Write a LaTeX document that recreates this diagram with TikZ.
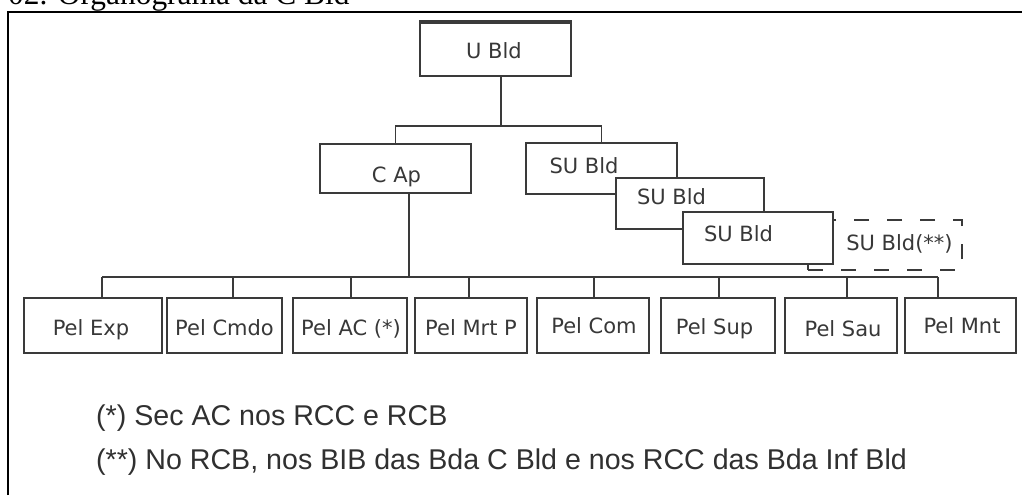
\documentclass[tikz,border=0pt]{standalone}
\usepackage{fontspec}
\newfontfamily\boxfont{DejaVu Sans}
\newfontfamily\notefont{Liberation Sans}
\newfontfamily\titlefont{Liberation Serif}
\definecolor{boxgray}{HTML}{3A3A3A}
\definecolor{txtgray}{HTML}{383838}
\definecolor{notegray}{HTML}{303030}
\begin{document}
\begin{tikzpicture}[x=1pt,y=-1pt,
  box/.style={draw=boxgray, line width=1.8pt, fill=white, inner sep=0pt},
  dashbox/.style={draw=boxgray, line width=1.8pt, fill=white, inner sep=0pt, dash pattern=on 15pt off 18pt},
  lbl/.style={font=\boxfont\fontsize{21}{25}\selectfont, text=txtgray, inner sep=0pt, anchor=base},
  conn/.style={draw=boxgray, line width=1.8pt},
  note/.style={font=\notefont\fontsize{28.6}{34}\selectfont, text=notegray, inner sep=0pt, anchor=base west}]
\useasboundingbox (0,0) rectangle (1022,495);
\clip (0,0) rectangle (1022,495);

% title (cut off at top) and frame
\node[font=\titlefont\fontsize{31.4}{36}\selectfont, inner sep=0pt, anchor=base west] (title) at (8,4.5) {02. Organograma da C Bld};
\draw[line width=2pt, black] (8,495) -- (8,12) -- (1022,12);

% connector points
\coordinate (j1) at (500.7,126);
\coordinate (bus) at (409,277);
\coordinate (d1) at (102,277);
\coordinate (d2) at (233,277);
\coordinate (d3) at (351,277);
\coordinate (d4) at (469,277);
\coordinate (d5) at (594,277);
\coordinate (d6) at (719,277);
\coordinate (d7) at (847,277);
\coordinate (d8) at (938,277);

% boxes
\node[box, minimum width=151pt, minimum height=53.3pt] (ubld) at (495.5,49.35) {};
\node[box, minimum width=151pt, minimum height=49pt] (cap) at (395.5,168.5) {};
\node[dashbox, minimum width=154pt, minimum height=50pt] (sud) at (885,245) {};
\node[box, minimum width=151pt, minimum height=51pt] (su1) at (601.5,168.5) {};
\node[box, minimum width=148pt, minimum height=51pt] (su2) at (690,203.5) {};
\node[box, minimum width=150pt, minimum height=52pt] (su3) at (758,238) {};

\node[box, minimum width=138pt, minimum height=55pt] (exp) at (93,325.5) {};
\node[box, minimum width=115pt, minimum height=55pt] (cmdo) at (224.5,325.5) {};
\node[box, minimum width=114pt, minimum height=55pt] (ac) at (350,325.5) {};
\node[box, minimum width=112pt, minimum height=55pt] (mrtp) at (471,325.5) {};
\node[box, minimum width=112pt, minimum height=55pt] (com) at (593,325.5) {};
\node[box, minimum width=114pt, minimum height=55pt] (sup) at (718,325.5) {};
\node[box, minimum width=112pt, minimum height=55pt] (sau) at (841,325.5) {};
\node[box, minimum width=111pt, minimum height=55pt] (mnt) at (960.5,325.5) {};

\draw[line width=3pt, boxgray] (ubld.north west) -- (ubld.north east);

% connector lines
\draw[conn] (j1 |- ubld.south) -- (j1);
\draw[conn] (cap.north) |- (j1) -| (su1.north);
\draw[conn] (cap.south -| bus) -- (bus);
\draw[conn] (d1) -- (d8);
\draw[conn] (d1) -- (d1 |- exp.north);
\draw[conn] (d2) -- (d2 |- cmdo.north);
\draw[conn] (d3) -- (d3 |- ac.north);
\draw[conn] (d4) -- (d4 |- mrtp.north);
\draw[conn] (d5) -- (d5 |- com.north);
\draw[conn] (d6) -- (d6 |- sup.north);
\draw[conn] (d7) -- (d7 |- sau.north);
\draw[conn] (d8) -- (d8 |- mnt.north);

% labels
\node[lbl] (ubldt) at (494,59) {U Bld};
\node[lbl] (capt) at (396.5,182) {C Ap};
\node[lbl] (su1t) at (584,173) {SU Bld};
\node[lbl] (su2t) at (671.5,204) {SU Bld};
\node[lbl] (su3t) at (738.5,241) {SU Bld};
\node[lbl] (sudt) at (899.5,250) {SU Bld(**)};

\node[lbl] (expt) at (91,335) {Pel Exp};
\node[lbl] (cmdot) at (224.5,335) {Pel Cmdo};
\node[lbl] (act) at (351,335) {Pel AC (*)};
\node[lbl] (mrtpt) at (471,335) {Pel Mrt P};
\node[lbl] (comt) at (594,333) {Pel Com};
\node[lbl] (supt) at (714.5,334) {Pel Sup};
\node[lbl] (saut) at (843,336) {Pel Sau};
\node[lbl] (mntt) at (962,333) {Pel Mnt};

% notes
\node[note] (n1) at (96,425.5) {(*) Sec AC nos RCC e RCB};
\node[note] (n2) at (96,469.5) {(**) No RCB, nos BIB das Bda C Bld e nos RCC das Bda Inf Bld};
\end{tikzpicture}
\end{document}
